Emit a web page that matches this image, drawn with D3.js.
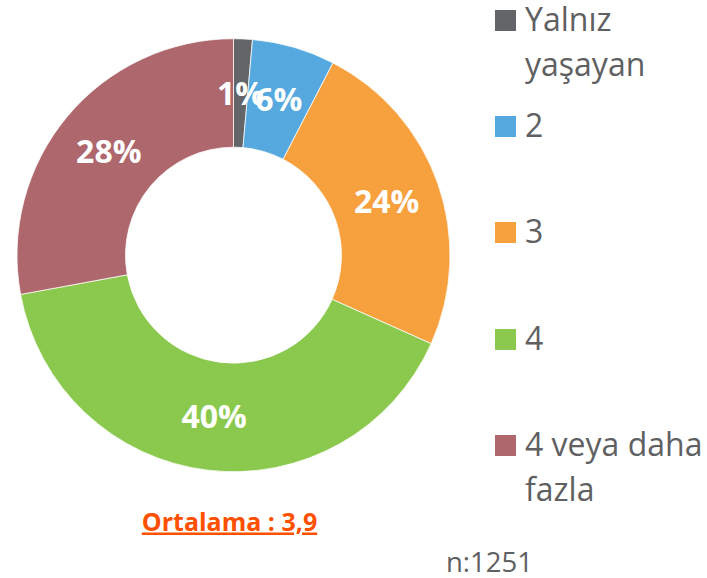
<!DOCTYPE html>
<html>
<head>
<meta charset="utf-8">
<script src="https://cdn.jsdelivr.net/npm/d3@7"></script>
<style>
  body { margin: 0; background: #fff; }
  svg { display: block; }
</style>
</head>
<body>
<div id="chart"></div>
<script>
// household size shares (percent)
var categories = ["Yalnız yaşayan", "2", "3", "4", "4 veya daha fazla"];
var legendLines = [["Yalnız", "yaşayan"], ["2"], ["3"], ["4"], ["4 veya daha", "fazla"]];
var values = [1.4, 6.2, 24.1, 40.4, 27.9];
var colors = ["#636569", "#56A9DE", "#F6A03E", "#8BC94E", "#AD676D"];
var averageText = "Ortalama : 3,9";
var sampleText = "n:1251";

var width = 707, height = 578;

var svg = d3.select("#chart")
    .append("svg")
    .attr("width", width)
    .attr("height", height);

var cx = 233.5, cy = 255.2;
var outerR = 216.5, innerR = 108;

var pie = d3.pie().sort(null).value(function(d) { return d; });
var arc = d3.arc().innerRadius(innerR).outerRadius(outerR);

var slices = pie(values);

var g = svg.append("g").attr("transform", "translate(" + cx + "," + cy + ")");

g.selectAll(".slice")
    .data(slices)
    .enter().append("path")
    .attr("class", "slice")
    .attr("d", arc)
    .style("fill", function(d, i) { return colors[i]; })
    .style("stroke", "#fff")
    .style("stroke-width", 0.75);

// percent labels at the middle of each ring segment
g.selectAll(".lbl")
    .data(slices)
    .enter().append("text")
    .attr("class", "lbl")
    .attr("transform", function(d) { return "translate(" + arc.centroid(d) + ")"; })
    .attr("text-anchor", "middle")
    .attr("dy", "0.36em")
    .style("font-family", "'Open Sans', sans-serif")
    .style("font-weight", 700)
    .style("font-size", "32px")
    .style("fill", "#fff")
    .text(function(d) { return Math.round(d.data) + "%"; });

// legend
var legTops = [10, 116, 222, 329, 435];
var leg = svg.append("g").attr("class", "legend");

var item = leg.selectAll(".item")
    .data(categories)
    .enter().append("g")
    .attr("class", "item")
    .attr("transform", function(d, i) { return "translate(495," + legTops[i] + ")"; });

item.append("rect")
    .attr("width", 21)
    .attr("height", 21)
    .style("fill", function(d, i) { return colors[i]; });

item.append("text")
    .attr("x", 30)
    .attr("y", 21)
    .style("font-family", "'Open Sans', sans-serif")
    .style("font-size", "32px")
    .style("fill", "#5F6062")
    .each(function(d, i) {
        var t = d3.select(this);
        legendLines[i].forEach(function(line, j) {
            t.append("tspan")
                .attr("x", 30)
                .attr("dy", j === 0 ? 0 : 45)
                .text(line);
        });
    });

// average note under the donut
svg.append("text")
    .attr("x", 229.5)
    .attr("y", 530.5)
    .attr("text-anchor", "middle")
    .style("font-family", "'Open Sans', sans-serif")
    .style("font-weight", 700)
    .style("font-size", "25px")
    .style("fill", "#FF5000")
    .style("text-decoration", "underline")
    .text(averageText);

svg.append("text")
    .attr("x", 446)
    .attr("y", 571.5)
    .style("font-family", "'Open Sans', sans-serif")
    .style("font-size", "27.5px")
    .style("fill", "#5F6062")
    .text(sampleText);
</script>
</body>
</html>
